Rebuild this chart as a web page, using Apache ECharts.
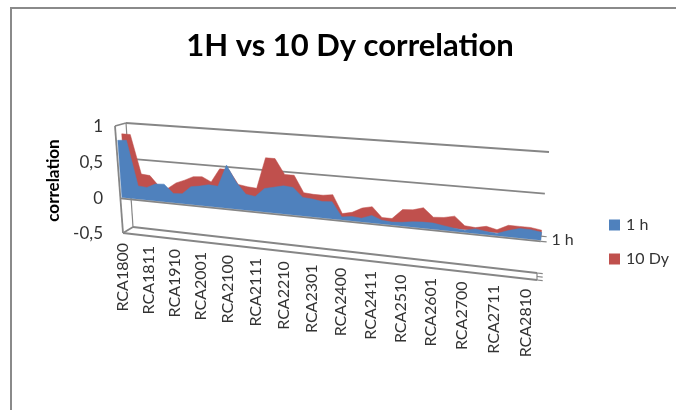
<!DOCTYPE html>
<html>
<head>
<meta charset="utf-8">
<script src="https://cdn.jsdelivr.net/npm/echarts@6/dist/echarts.min.js"></script>
<style>html,body{margin:0;padding:0;background:#fff}#c{width:676px;height:410px}</style>
</head>
<body>
<div id="c"></div>
<script>
var titleText = '1H vs 10 Dy correlation';
var yAxisName = 'correlation';
var categories = ['RCA1800','RCA1801','RCA1810','RCA1811','RCA1900','RCA1901','RCA1910','RCA1911','RCA2000','RCA2001','RCA2010','RCA2011','RCA2100','RCA2101','RCA2110','RCA2111','RCA2200','RCA2201','RCA2210','RCA2211','RCA2300','RCA2301','RCA2310','RCA2311','RCA2400','RCA2401','RCA2410','RCA2411','RCA2500','RCA2501','RCA2510','RCA2511','RCA2600','RCA2601','RCA2610','RCA2611','RCA2700','RCA2701','RCA2710','RCA2711','RCA2800','RCA2801','RCA2810','RCA2811'];
var oneHour = [0.80,0.81,0.19,0.18,0.24,0.25,0.13,0.14,0.25,0.27,0.30,0.29,0.59,0.37,0.22,0.20,0.32,0.35,0.38,0.37,0.25,0.24,0.22,0.23,0.04,0.06,0.05,0.10,0.05,0.04,0.05,0.07,0.08,0.08,0.06,0.04,0.03,0.06,0.04,0.03,0.08,0.12,0.12,0.10];
var tenDay = [0.87,0.87,0.33,0.32,0.18,0.16,0.25,0.30,0.36,0.37,0.31,0.50,0.50,0.31,0.29,0.28,0.70,0.70,0.50,0.50,0.28,0.27,0.27,0.29,0.05,0.08,0.15,0.18,0.05,0.05,0.18,0.19,0.23,0.12,0.13,0.16,0.05,0.04,0.07,0.04,0.11,0.11,0.11,0.09];
var yTicks = [-0.5,0,0.5,1];
var seriesNames = ['1 h','10 Dy'];

var GREY = '#868686', BLUE = '#4f81bd', RED = '#c0504d', INK = '#333333', FONT = 'Lato, "Open Sans", sans-serif';

// perspective view of the plot box: front and back planes of the 3D axes
var frontQuad = [[115,126],[549,160],[537,280],[123,233]];
var backQuad = [[126,123],[549,152],[537,273],[133,227]];
var BLUE_DEPTH = 0.15, RED_DEPTH = 0.55;

function homography(q){
  var x0=q[0][0],y0=q[0][1],x1=q[1][0],y1=q[1][1],x2=q[2][0],y2=q[2][1],x3=q[3][0],y3=q[3][1];
  var dx1=x1-x2,dx2=x3-x2,sx=x0-x1+x2-x3,dy1=y1-y2,dy2=y3-y2,sy=y0-y1+y2-y3;
  var den=dx1*dy2-dx2*dy1;
  var g=(sx*dy2-dx2*sy)/den,h=(dx1*sy-sx*dy1)/den;
  var a=x1-x0+g*x1,b=x3-x0+h*x3,d=y1-y0+g*y1,e=y3-y0+h*y3;
  return function(u,w){var k=g*u+h*w+1;return [(a*u+b*w+x0)/k,(d*u+e*w+y0)/k];};
}
var hFront = homography(frontQuad), hBack = homography(backQuad);
function project(api, params, i, v, depth, du){
  var p = api.coord([i, v]), cs = params.coordSys;
  var u = (p[0]-cs.x)/cs.width + (du||0), w = (p[1]-cs.y)/cs.height;
  var f = hFront(u,w), b = hBack(u,w);
  return [f[0]+(b[0]-f[0])*depth, f[1]+(b[1]-f[1])*depth];
}
function areaRender(values, depth, color){
  return function(params, api){
    if(params.dataIndex !== 0) return null;
    var n = values.length, pts = [];
    for(var j=0;j<n;j++) pts.push(project(api,params,j,values[j],depth));
    pts.push(project(api,params,n-1,0,depth));
    pts.push(project(api,params,0,0,depth));
    return {type:'polygon',shape:{points:pts},style:{fill:color,stroke:color,lineWidth:0.5}};
  };
}
function seg(a,b,w){return {type:'line',shape:{x1:a[0],y1:a[1],x2:b[0],y2:b[1]},style:{stroke:GREY,lineWidth:w||1.8}};}
var last = categories.length-1;

function wallRender(params, api){
  var v = api.value(1), kids = [];
  if(v > -0.5 && v !== 0){ kids.push(seg(project(api,params,0,v,1),project(api,params,last,v,1))); }
  if(v === -0.5){
    kids.push(seg(project(api,params,0,v,1),project(api,params,last,v,1)));
    kids.push(seg(project(api,params,0,v,0),project(api,params,last,v,0)));
    kids.push(seg(project(api,params,0,v,0),project(api,params,0,v,1)));
    kids.push(seg(project(api,params,0,1,0),project(api,params,0,v,0)));
    kids.push(seg(project(api,params,0,1,1),project(api,params,0,v,1),1.2));
    kids.push(seg(project(api,params,0,1,0),project(api,params,0,1,1)));
    [0,0.5,1].forEach(function(d){
      kids.push(seg(project(api,params,last,v,d),project(api,params,last,v,d,0.012),1.2));
    });
    kids.push(seg(project(api,params,last,v,0),project(api,params,last,v,1),1.2));
  }
  return {type:'group',children:kids};
}
function baseRender(params, api){
  var kids = [seg(project(api,params,0,0,0),project(api,params,last,0,0))];
  [0,0.7].forEach(function(d){
    kids.push(seg(project(api,params,last,0,d),project(api,params,last,0,d,0.012),1.2));
  });
  var t = project(api,params,last,0,0,0.022);
  kids.push({type:'text',style:{x:t[0],y:t[1]-3,text:seriesNames[0],fill:INK,font:'16px '+FONT,textAlign:'left',textVerticalAlign:'middle'}});
  return {type:'group',children:kids};
}
function labelRender(params, api){
  var i = params.dataIndex;
  if(i % 3 !== 0) return null;
  var p = project(api,params,i,-0.5,0);
  return {type:'text',x:p[0],y:p[1]+10,rotation:Math.PI/2,
    style:{text:categories[i],x:0,y:0,fill:INK,font:'16px '+FONT,textAlign:'right',textVerticalAlign:'middle'}};
}

var chart = echarts.init(document.getElementById('c'),null,{renderer:'canvas'});
chart.setOption({
  animation:false,
  backgroundColor:'#ffffff',
  title:{text:titleText,left:345,top:25,textAlign:'center',textStyle:{fontFamily:FONT,fontWeight:'bold',fontSize:31,color:'#000'}},
  grid:{left:115,top:127,width:425,height:107},
  legend:{orient:'vertical',left:609,top:217,padding:0,itemWidth:11,itemHeight:11,itemGap:18,icon:'rect',
    data:seriesNames,textStyle:{fontFamily:FONT,fontSize:16,color:INK,padding:[0,0,0,1]}},
  tooltip:{show:false},
  xAxis:{type:'category',data:categories,boundaryGap:false,show:false},
  yAxis:{type:'value',min:-0.5,max:1,interval:0.5,name:yAxisName,nameLocation:'middle',nameGap:53,
    nameTextStyle:{fontFamily:FONT,fontWeight:'bold',fontSize:17,color:'#000'},
    axisLine:{show:false},axisTick:{show:false},splitLine:{show:false},
    axisLabel:{margin:12,fontFamily:FONT,fontSize:17,color:INK,formatter:function(v){return String(v).replace('.',',');}}},
  series:[
    {name:'walls',type:'custom',coordinateSystem:'cartesian2d',z:1,silent:true,
      data:yTicks.map(function(v){return [0,v];}),renderItem:wallRender},
    {name:seriesNames[1],type:'custom',coordinateSystem:'cartesian2d',z:2,itemStyle:{color:RED},
      data:tenDay.map(function(v,i){return [i,v];}),renderItem:areaRender(tenDay,RED_DEPTH,RED)},
    {name:seriesNames[0],type:'custom',coordinateSystem:'cartesian2d',z:3,itemStyle:{color:BLUE},
      data:oneHour.map(function(v,i){return [i,v];}),renderItem:areaRender(oneHour,BLUE_DEPTH,BLUE)},
    {name:'baseline',type:'custom',coordinateSystem:'cartesian2d',z:4,silent:true,
      data:[[0,0]],renderItem:baseRender},
    {name:'category labels',type:'custom',coordinateSystem:'cartesian2d',z:4,silent:true,
      data:categories.map(function(c,i){return [i,-0.5];}),renderItem:labelRender}
  ],
  graphic:[{type:'polyline',z:0,shape:{points:[[11,420],[11,8],[690,8]]},style:{fill:'none',stroke:'#8a8a8a',lineWidth:2}}]
});
</script>
</body>
</html>
